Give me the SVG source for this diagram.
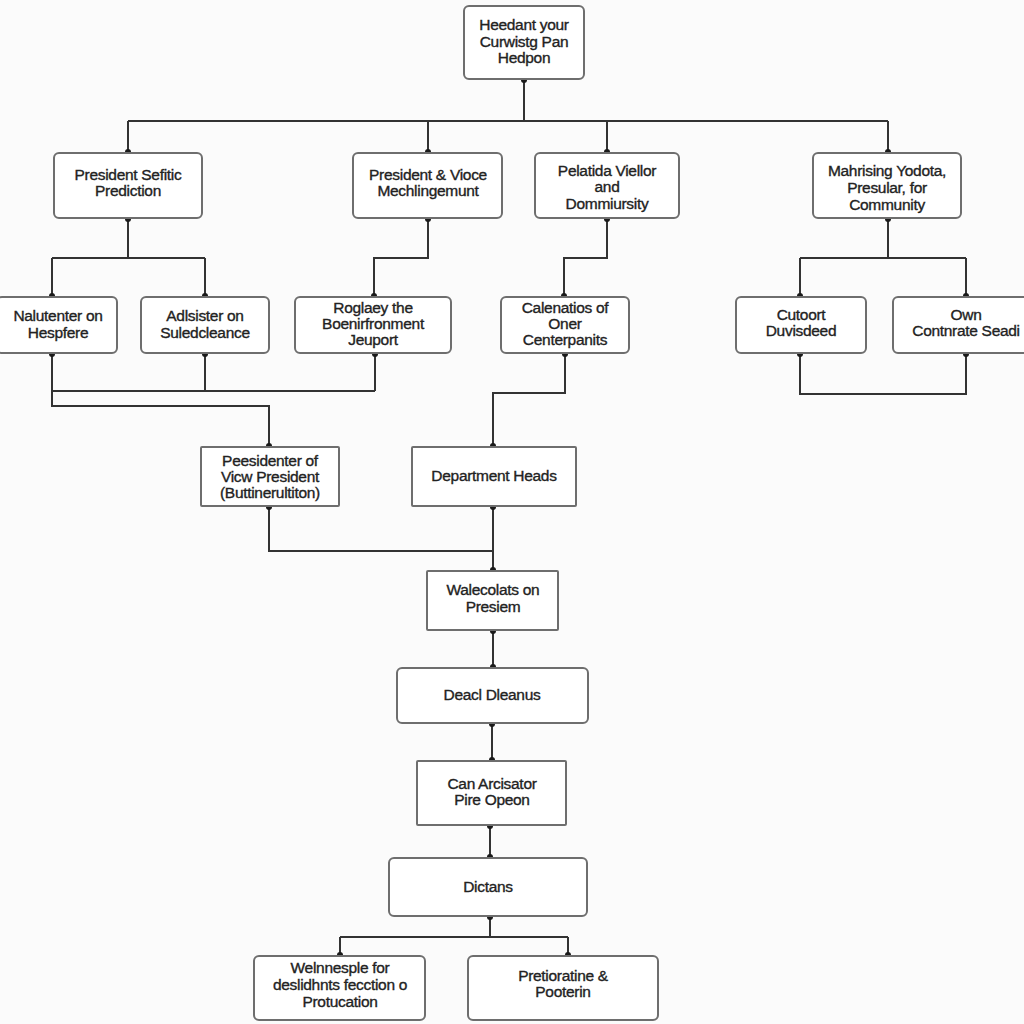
<svg xmlns="http://www.w3.org/2000/svg" width="1024" height="1024" viewBox="0 0 1024 1024">
<style>
.bx{fill:#ffffff;stroke:#6e6e6e;stroke-width:2}
.ln{fill:none;stroke:#333;stroke-width:2}
.dt{fill:#1a1a1a}
text{font-family:"Liberation Sans",Arial,sans-serif;font-size:15.5px;fill:#222;stroke:#222;stroke-width:0.35;text-anchor:middle;letter-spacing:-0.3px}
</style>
<rect width="1024" height="1024" fill="#fbfbfb"/>
<g id="connectors">
<path class="ln" d="M524 79V121M128 121H888M128 121V153M428 121V153M607 121V153M888 121V153"/>
<path class="ln" d="M128 218V258M52 258H205M52 258V297M205 258V297"/>
<path class="ln" d="M428 218V258H374V297"/>
<path class="ln" d="M607 218V258H564V297"/>
<path class="ln" d="M888 218V258M800 258H966M800 258V297M966 258V297"/>
<path class="ln" d="M800 353V394H966V353"/>
<path class="ln" d="M52 353V406H269V447M52 391H375M205 353V391M375 353V391"/>
<path class="ln" d="M565 353V393H493V447"/>
<path class="ln" d="M269 506V551H493M493 506V571"/>
<path class="ln" d="M493 630V668M492 723V761M490 825V858"/>
<path class="ln" d="M490 916V937M340 937H568M340 937V956M568 937V956"/>
<g class="dt">
<circle cx="524" cy="80" r="3"/>
<circle cx="128" cy="152" r="3"/><circle cx="428" cy="152" r="3"/><circle cx="607" cy="152" r="3"/><circle cx="888" cy="152" r="3"/>
<circle cx="128" cy="219" r="3"/><circle cx="428" cy="219" r="3"/><circle cx="607" cy="219" r="3"/><circle cx="888" cy="219" r="3"/>
<circle cx="52" cy="296" r="3"/><circle cx="205" cy="296" r="3"/><circle cx="374" cy="296" r="3"/><circle cx="564" cy="296" r="3"/><circle cx="800" cy="296" r="3"/><circle cx="966" cy="296" r="3"/>
<circle cx="52" cy="354" r="3"/><circle cx="205" cy="354" r="3"/><circle cx="375" cy="354" r="3"/><circle cx="565" cy="354" r="3"/><circle cx="800" cy="354" r="3"/><circle cx="966" cy="354" r="3"/>
<circle cx="269" cy="446" r="3"/><circle cx="493" cy="446" r="3"/>
<circle cx="269" cy="507" r="3"/><circle cx="493" cy="507" r="3"/>
<circle cx="493" cy="570" r="3"/><circle cx="493" cy="631" r="3"/><circle cx="493" cy="667" r="3"/>
<circle cx="492" cy="724" r="3"/><circle cx="492" cy="760" r="3"/><circle cx="490" cy="826" r="3"/><circle cx="490" cy="857" r="3"/>
<circle cx="490" cy="917" r="3"/><circle cx="340" cy="955" r="3"/><circle cx="568" cy="955" r="3"/>
</g>
</g>
<g id="n-top"><rect class="bx" x="464" y="6" width="120" height="73" rx="5"/><text x="524" y="30">Heedant your</text><text x="524" y="47">Curwistg Pan</text><text x="524" y="63">Hedpon</text></g>
<g id="n-a"><rect class="bx" x="54" y="153" width="148" height="65" rx="5"/><text x="128" y="180">President Sefitic</text><text x="128" y="196">Prediction</text></g>
<g id="n-b"><rect class="bx" x="353" y="153" width="149" height="65" rx="5"/><text x="428" y="180">President &amp; Vioce</text><text x="428" y="196">Mechlingemunt</text></g>
<g id="n-c"><rect class="bx" x="535" y="153" width="144" height="65" rx="5"/><text x="607" y="176">Pelatida Viellor</text><text x="607" y="192">and</text><text x="607" y="209">Dommiursity</text></g>
<g id="n-d"><rect class="bx" x="813" y="153" width="148" height="65" rx="5"/><text x="887" y="176">Mahrising Yodota,</text><text x="887" y="193">Presular, for</text><text x="887" y="210">Community</text></g>
<g id="n-e"><rect class="bx" x="-3" y="297" width="120" height="56" rx="5"/><text x="58" y="321">Nalutenter on</text><text x="58" y="338">Hespfere</text></g>
<g id="n-f"><rect class="bx" x="141" y="297" width="128" height="56" rx="5"/><text x="205" y="321">Adlsister on</text><text x="205" y="338">Suledcleance</text></g>
<g id="n-g"><rect class="bx" x="295" y="297" width="156" height="56" rx="5"/><text x="373" y="313">Roglaey the</text><text x="373" y="329">Boenirfronment</text><text x="373" y="345">Jeuport</text></g>
<g id="n-h"><rect class="bx" x="501" y="297" width="128" height="56" rx="5"/><text x="565" y="313">Calenatios of</text><text x="565" y="329">Oner</text><text x="565" y="345">Centerpanits</text></g>
<g id="n-i"><rect class="bx" x="736" y="297" width="130" height="56" rx="5"/><text x="801" y="320">Cutoort</text><text x="801" y="336">Duvisdeed</text></g>
<g id="n-j"><rect class="bx" x="893" y="297" width="140" height="56" rx="5"/><text x="966" y="320">Own</text><text x="966" y="336">Contnrate Seadi</text></g>
<g id="n-k"><rect class="bx" x="201" y="447" width="138" height="59" rx="1"/><text x="270" y="466">Peesidenter of</text><text x="270" y="482">Vicw President</text><text x="270" y="498">(Buttinerultiton)</text></g>
<g id="n-l"><rect class="bx" x="412" y="447" width="164" height="59" rx="1"/><text x="494" y="481">Department Heads</text></g>
<g id="n-m"><rect class="bx" x="427" y="571" width="131" height="59" rx="1"/><text x="493" y="595">Walecolats on</text><text x="493" y="612">Presiem</text></g>
<g id="n-n"><rect class="bx" x="397" y="668" width="191" height="55" rx="5"/><text x="492" y="700">Deacl Dleanus</text></g>
<g id="n-o"><rect class="bx" x="417" y="761" width="149" height="64" rx="1"/><text x="492" y="789">Can Arcisator</text><text x="492" y="805">Pire Opeon</text></g>
<g id="n-p"><rect class="bx" x="389" y="858" width="198" height="58" rx="5"/><text x="488" y="892">Dictans</text></g>
<g id="n-q"><rect class="bx" x="254" y="956" width="171" height="64" rx="5"/><text x="340" y="973">Welnnesple for</text><text x="340" y="990">deslidhnts fecction o</text><text x="340" y="1007">Protucation</text></g>
<g id="n-r"><rect class="bx" x="468" y="956" width="190" height="64" rx="5"/><text x="563" y="981">Pretioratine &amp;</text><text x="563" y="997">Pooterin</text></g>
</svg>
